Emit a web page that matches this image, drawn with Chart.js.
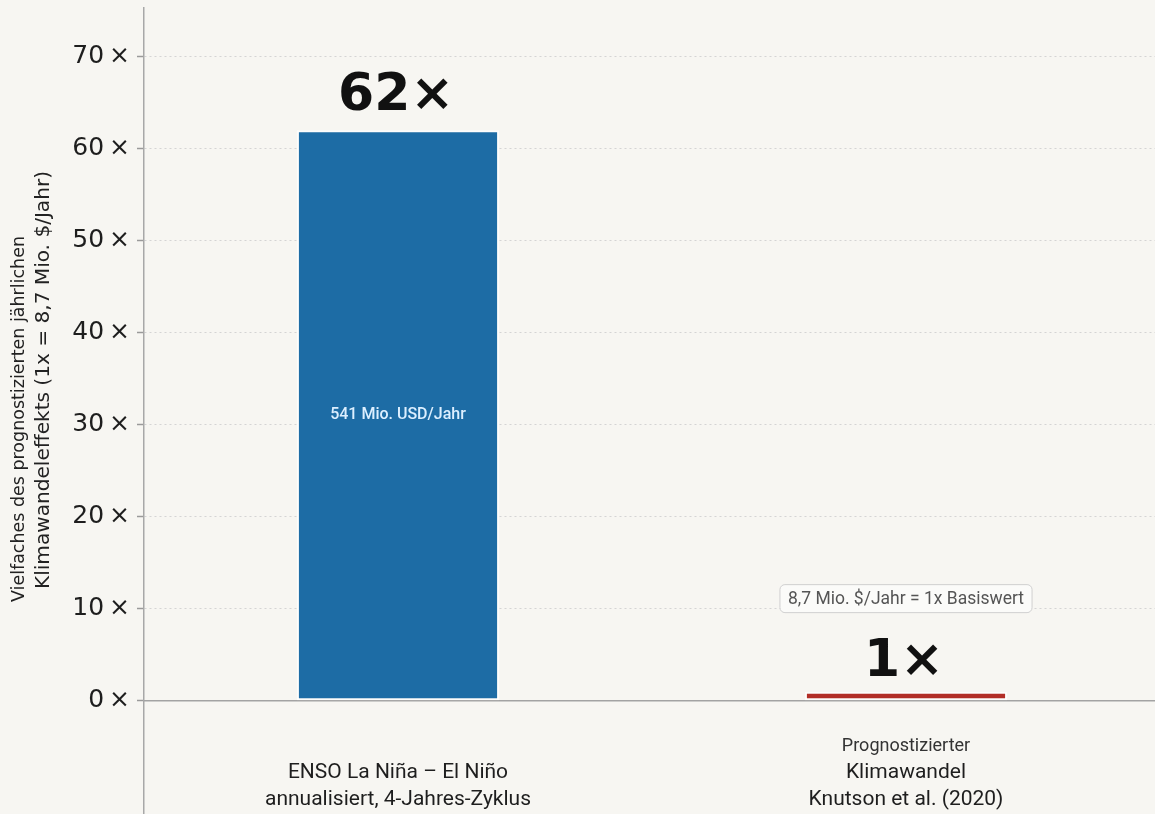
<!DOCTYPE html>
<html lang="de">
<head>
<meta charset="utf-8">
<title>ENSO vs. Klimawandel</title>
<script src="https://cdn.jsdelivr.net/npm/chart.js@4"></script>
<style>
  html, body { margin: 0; padding: 0; background: #f7f6f2; overflow: hidden; }
  #wrap { width: 1160px; height: 814px; position: relative; }
</style>
</head>
<body>
<div id="wrap"><canvas id="chart"></canvas></div>
<script>
// Daten
const categories = ["ENSO", "Klimawandel"];
const multiples = [62, 1];
const valueLabels = ["62×", "1×"];
const insideLabels = ["541 Mio. USD/Jahr", ""];
const yTicks = [0, 10, 20, 30, 40, 50, 60, 70];
const categoryLines = [
  ["ENSO La Niña – El Niño", "annualisiert, 4-Jahres-Zyklus"],
  ["Prognostizierter", "Klimawandel", "Knutson et al. (2020)"]
];
const baseNote = "8,7 Mio. $/Jahr = 1x Basiswert";
const yTitleLines = [
  "Vielfaches des prognostizierten jährlichen",
  "Klimawandeleffekts (1x = 8,7 Mio. $/Jahr)"
];

// Farben
const barColors = ["#1d6ca5", "#b22e27"];
const textDark = "#1e1e1e";

// Plugin für Beschriftungen, Nulllinie, Achsentitel
const decorations = {
  id: "decorations",
  beforeDatasetsDraw(chart) {
    const { ctx, chartArea, scales: { y } } = chart;
    const y0 = y.getPixelForValue(0);
    ctx.save();
    ctx.strokeStyle = "#a3a3a3";
    ctx.lineWidth = 1.5;
    ctx.beginPath();
    ctx.moveTo(chartArea.left, y0);
    ctx.lineTo(chartArea.right, y0);
    ctx.stroke();
    ctx.restore();
  },
  afterDatasetsDraw(chart) {
    const { ctx, scales: { x } } = chart;
    const meta = chart.getDatasetMeta(0);
    ctx.save();
    ctx.textAlign = "center";

    meta.data.forEach((bar, i) => {
      const cx = bar.x;
      const top = bar.y;
      // großer Wert über dem Balken
      ctx.fillStyle = "#111";
      ctx.font = "bold 52px 'DejaVu Sans'";
      ctx.textBaseline = "alphabetic";
      ctx.fillText(valueLabels[i], cx - 2, top - (i === 0 ? 20 : 16));

      // Text im Balken
      if (insideLabels[i]) {
        ctx.fillStyle = "#dcefff";
        ctx.font = "500 16px Roboto";
        ctx.textBaseline = "middle";
        ctx.fillText(insideLabels[i], cx, (top + bar.base) / 2);
      }

      // Kategorienbeschriftung unten
      const lines = categoryLines[i];
      ctx.textBaseline = "middle";
      for (let k = 0; k < lines.length; k++) {
        const fromBottom = lines.length - 1 - k;
        const small = lines.length === 3 && k === 0;
        ctx.font = small ? "18px Roboto" : "21px Roboto";
        ctx.fillStyle = small ? "#333" : textDark;
        ctx.fillText(lines[k], x.getPixelForValue(i), 800 - fromBottom * 27);
      }
    });

    // Basiswert-Box über dem roten Balken
    const red = meta.data[1];
    const by = red.y - 93;
    ctx.font = "17.5px Roboto";
    const tw = ctx.measureText(baseNote).width;
    const bw = tw + 16, bh = 28;
    const bx = red.x - bw / 2;
    ctx.fillStyle = "#fbfbf9";
    ctx.strokeStyle = "#cfcfcf";
    ctx.lineWidth = 1;
    ctx.beginPath();
    ctx.roundRect(bx, by - bh / 2, bw, bh, 5);
    ctx.fill();
    ctx.stroke();
    ctx.fillStyle = "#555";
    ctx.textBaseline = "middle";
    ctx.fillText(baseNote, red.x, by + 1);

    // Achsentitel (gedreht, schmal)
    const titleSpecs = [
      { text: yTitleLines[0], cx: 20, cy: 419, len: 366, size: 17 },
      { text: yTitleLines[1], cx: 44, cy: 380, len: 418, size: 19 }
    ];
    titleSpecs.forEach(t => {
      ctx.save();
      ctx.translate(t.cx, t.cy);
      ctx.rotate(-Math.PI / 2);
      ctx.font = t.size + "px 'Liberation Sans Narrow', 'DejaVu Sans Condensed', sans-serif";
      const w = ctx.measureText(t.text).width;
      ctx.scale(t.len / w, 1);
      ctx.fillStyle = "#222";
      ctx.textAlign = "center";
      ctx.textBaseline = "middle";
      ctx.fillText(t.text, 0, 0);
      ctx.restore();
    });

    ctx.restore();
  }
};

new Chart(document.getElementById("chart"), {
  type: "bar",
  data: {
    labels: categories,
    datasets: [{
      data: multiples,
      backgroundColor: barColors,
      borderColor: "rgba(255,255,255,0.75)",
      borderWidth: 2,
      borderSkipped: false,
      barPercentage: 0.398,
      categoryPercentage: 1
    }]
  },
  options: {
    responsive: true,
    maintainAspectRatio: false,
    animation: false,
    layout: { padding: { top: 8, right: 0, bottom: 0, left: 0 } },
    plugins: {
      legend: { display: false },
      tooltip: { enabled: false }
    },
    scales: {
      x: {
        display: false
      },
      y: {
        min: -12.3,
        max: 75.3,
        afterBuildTicks: scale => {
          scale.ticks = yTicks.map(v => ({ value: v }));
        },
        afterFit: scale => {
          scale.width = 144;
          scale.paddingTop = 0;
          scale.paddingBottom = 0;
        },
        ticks: {
          padding: 7,
          color: textDark,
          font: { family: "'DejaVu Sans'", size: 25 },
          callback: v => v + "\u2009×"
        },
        grid: {
          color: c => (c.tick && c.tick.value === 0 ? "rgba(0,0,0,0)" : "#d4d4d4"),
          lineWidth: 1,
          tickLength: 7,
          tickColor: "#9a9a9a",
          tickWidth: 1.5
        },
        border: {
          display: true,
          color: "#a8a8a8",
          width: 1.5,
          dash: [2, 3]
        }
      }
    }
  },
  plugins: [decorations]
});
</script>
</body>
</html>
